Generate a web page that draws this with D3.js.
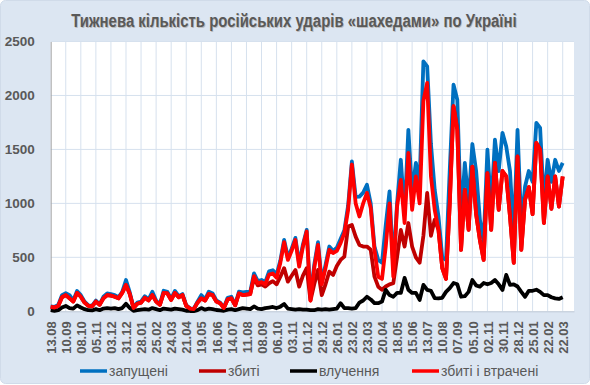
<!DOCTYPE html>
<html>
<head>
<meta charset="utf-8">
<script src="https://cdn.jsdelivr.net/npm/d3@7"></script>
<style>
  html, body { margin: 0; padding: 0; background: #ffffff; }
  svg text { font-family: Arial, "Liberation Sans", sans-serif; }
</style>
</head>
<body>
<svg id="chart"></svg>
<script>
// tick labels, one every 4 weeks
const labels = ['13.08','10.09','08.10','05.11','03.12','31.12','28.01','25.02','24.03','21.04',
  '19.05','16.06','14.07','11.08','08.09','06.10','03.11','01.12','29.12','26.01',
  '23.02','23.03','20.04','18.05','15.06','13.07','10.08','07.09','05.10','02.11',
  '30.11','28.12','25.01','22.02','22.03'];

// weekly values
const launched = [45,40,60,150,168,150,100,188,150,90,
  55,50,100,65,135,165,160,150,130,180,
  290,175,35,80,90,140,110,181,100,65,
  190,180,115,189,140,160,55,28,22,90,
  150,110,182,165,100,80,35,125,135,60,
  182,175,180,180,352,280,290,270,370,380,
  340,470,661,500,580,680,440,620,754,130,
  430,640,270,430,600,560,590,671,750,980,
  1388,1060,1063,1100,1172,1000,600,476,450,800,
  1110,400,1000,1404,900,1682,1100,1375,1200,2316,
  2270,1550,1125,878,500,476,1311,2100,1960,846,
  1375,1000,1550,1300,850,650,1497,950,1590,1300,
  1654,1527,1300,700,1682,800,1156,1300,1200,1746,
  1700,1000,1404,1200,1404,1300,1375];

const shotDown = [40,35,50,130,150,120,90,170,135,80,
  50,45,90,60,120,150,145,135,120,170,
  245,160,30,70,80,125,100,150,90,60,
  170,165,105,170,130,150,50,25,20,80,
  120,100,160,150,90,75,30,110,120,55,
  165,150,155,160,310,240,250,230,260,280,
  250,321,400,275,330,383,228,330,400,100,
  250,383,150,250,367,337,420,476,507,785,
  800,692,615,600,600,570,321,228,200,230,
  250,260,500,754,600,818,600,500,450,700,
  1097,700,850,754,400,300,1000,1900,1682,569,
  1125,754,1340,900,660,476,1280,754,1375,940,
  1300,1250,878,448,1435,569,1033,1150,900,1560,
  1500,818,1250,950,1250,970,1250];

const hits = [10,5,10,35,50,30,25,55,35,20,
  10,8,20,10,25,30,25,30,20,30,
  70,30,5,10,15,20,15,30,20,10,
  25,20,15,25,20,15,5,3,2,10,
  30,15,25,20,12,8,5,15,20,10,
  20,30,25,20,45,25,20,30,35,40,
  30,43,68,25,20,15,20,15,15,10,
  10,20,15,20,15,20,25,75,30,30,
  25,30,80,100,135,110,75,75,90,198,
  150,135,170,170,309,200,170,170,105,245,
  198,190,123,120,125,180,215,262,250,135,
  140,180,290,240,228,262,250,262,290,250,
  198,337,245,250,230,180,135,190,190,200,
  180,150,150,130,120,115,130];

const shotLost = [40,35,50,130,150,120,90,170,135,80,
  50,45,90,60,120,150,145,135,120,170,
  245,160,30,70,80,125,100,150,90,60,
  170,165,105,170,130,150,50,25,20,80,
  120,100,160,150,90,75,30,110,120,55,
  165,150,155,160,325,260,270,250,340,350,
  310,450,640,476,560,661,414,600,739,100,
  400,615,250,400,570,540,560,632,724,940,
  1360,1000,878,1000,1097,958,569,320,300,600,
  1000,321,970,1218,818,1468,940,1250,1000,1950,
  2117,1250,940,754,400,300,1000,1900,1682,569,
  1125,754,1340,900,660,476,1280,754,1375,940,
  1300,1250,878,448,1435,569,1033,1150,900,1560,
  1500,818,1250,950,1250,970,1250];

const series = [
  { name: 'запущені', values: launched, color: '#0070C0' },
  { name: 'збиті', values: shotDown, color: '#C00000' },
  { name: 'влучення', values: hits, color: '#000000' },
  { name: 'збиті і втрачені', values: shotLost, color: '#FF0000' }
];

const W = 590, H = 385;
const margin = { top: 41.5, right: 16, bottom: 73.7, left: 50.7 };

const svg = d3.select('#chart')
  .attr('width', W)
  .attr('height', H);

svg.append('rect')
  .attr('x', 0.5).attr('y', 0.5)
  .attr('width', W - 1).attr('height', H - 2)
  .attr('rx', 5)
  .attr('fill', '#DCE6F2')
  .attr('stroke', '#d0dbe9');

const x = d3.scaleLinear()
  .domain([0, 139])
  .range([margin.left, W - margin.right]);

const y = d3.scaleLinear()
  .domain([0, 2500])
  .range([H - margin.bottom, margin.top]);

// plot area
svg.append('rect')
  .attr('x', x(0)).attr('y', y(2500))
  .attr('width', x(139) - x(0)).attr('height', y(0) - y(2500))
  .attr('fill', '#ffffff');

const tickIdx = labels.map((d, i) => i * 4);

// gridlines
svg.append('g')
  .selectAll('line')
  .data(y.ticks(5).filter(d => d > 0))
  .join('line')
  .attr('x1', x(0)).attr('x2', x(139))
  .attr('y1', d => y(d)).attr('y2', d => y(d))
  .attr('stroke', '#D6E1EE').attr('stroke-width', 1);

svg.append('g')
  .selectAll('line')
  .data(tickIdx.filter(d => d > 0))
  .join('line')
  .attr('x1', d => x(d)).attr('x2', d => x(d))
  .attr('y1', y(0)).attr('y2', y(2500))
  .attr('stroke', '#D6E1EE').attr('stroke-width', 1);

// axes
const yAxis = svg.append('g')
  .attr('transform', `translate(${x(0)},0)`)
  .call(d3.axisLeft(y).tickValues(d3.range(0, 2501, 500)).tickFormat(d3.format('d')).tickSize(0).tickPadding(16));
yAxis.select('.domain').attr('stroke', '#A6A6A6');
yAxis.selectAll('text')
  .attr('fill', '#595959')
  .style('font-size', '13.5px')
  .style('font-weight', 'bold');

const xAxis = svg.append('g')
  .attr('transform', `translate(0,${y(0)})`)
  .call(d3.axisBottom(x).tickValues(tickIdx).tickSize(0).tickFormat((d, i) => labels[i]));
xAxis.select('.domain').attr('stroke', '#BFC9D6');
xAxis.selectAll('text')
  .attr('fill', '#595959')
  .style('font-size', '13px')
  .style('font-weight', 'bold')
  .attr('text-anchor', 'end')
  .attr('transform', 'rotate(-90)')
  .attr('x', -10)
  .attr('y', 0)
  .attr('dy', '0.36em');

// lines
const line = d3.line()
  .x((d, i) => x(i))
  .y(d => y(d));

svg.append('g')
  .selectAll('path')
  .data(series)
  .join('path')
  .attr('fill', 'none')
  .attr('stroke', d => d.color)
  .attr('stroke-width', 3.8)
  .attr('stroke-linejoin', 'round')
  .attr('d', d => line(d.values));

// title: condensed bold look, squeezed horizontally to the reference width
const title = 'Тижнева кількість російських ударів «шахедами» по Україні';
const titleG = svg.append('g');
[['#bcbcbc', 1], ['#595959', 0]].forEach(([fill, off]) => {
  titleG.append('text')
    .attr('x', off).attr('y', off)
    .attr('text-anchor', 'middle')
    .attr('fill', fill)
    .style('font-size', '18.5px')
    .style('font-weight', 'bold')
    .text(title);
});
const natural = titleG.select('text').node().getComputedTextLength();
titleG.attr('transform', `translate(294,27) scale(${446 / natural},1)`);

// legend
const legendX = [80, 199, 290, 412];
const legend = svg.append('g')
  .selectAll('g')
  .data(series)
  .join('g')
  .attr('transform', (d, i) => `translate(${legendX[i]},371)`);
legend.append('line')
  .attr('x1', 0).attr('x2', 27)
  .attr('stroke', d => d.color)
  .attr('stroke-width', 3.5);
legend.append('text')
  .attr('x', 29).attr('dy', '0.35em')
  .attr('fill', '#595959')
  .style('font-size', '14px')
  .text(d => d.name);
</script>
</body>
</html>
